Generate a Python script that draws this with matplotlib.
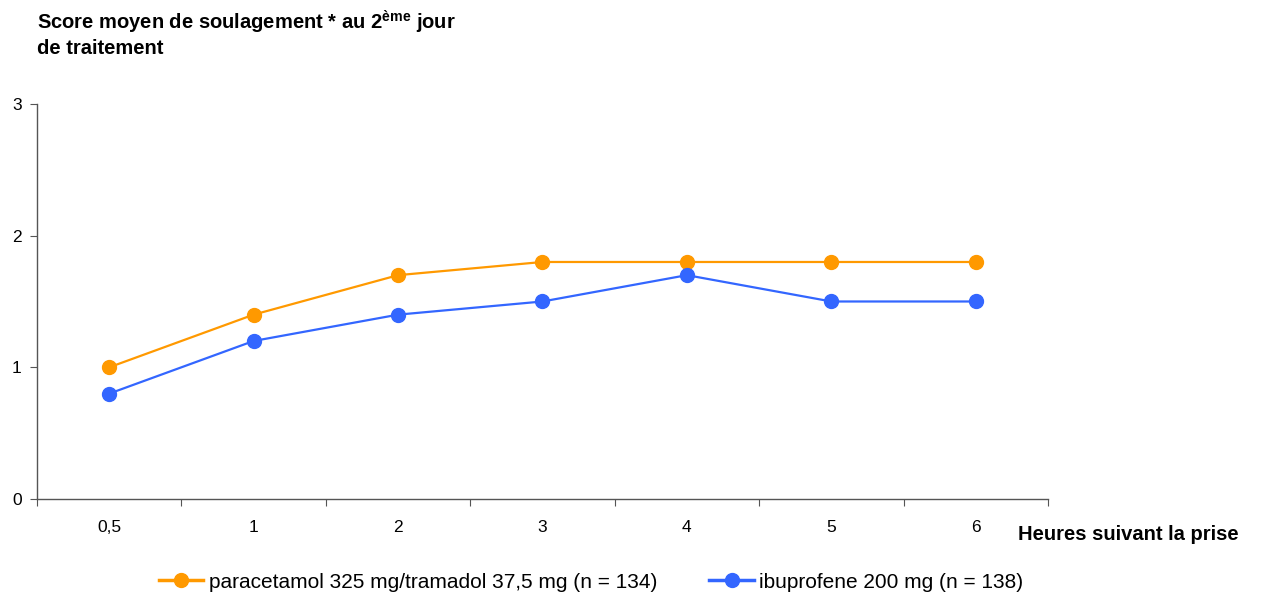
import numpy as np
import matplotlib
matplotlib.use('Agg')
import matplotlib.pyplot as plt

plt.rcParams['font.family'] = ['Liberation Sans', 'DejaVu Sans']
plt.rcParams['mathtext.default'] = 'regular'

# Données
heures = ['0,5', '1', '2', '3', '4', '5', '6']
para_tram = [1.0, 1.4, 1.7, 1.8, 1.8, 1.8, 1.8]
ibuprofene = [0.8, 1.2, 1.4, 1.5, 1.7, 1.5, 1.5]
noms = ['paracetamol 325 mg/tramadol 37,5 mg (n = 134)', 'ibuprofene 200 mg (n = 138)']

fig = plt.figure(figsize=(12.66, 5.97), dpi=100)
ax = fig.add_axes([0.0292, 0.1642, 0.7986, 0.6616])

x = np.arange(len(heures))
l1, = ax.plot(x, para_tram, color='#FF9900', lw=1.6, marker='o', ms=10, label=noms[0])
l2, = ax.plot(x, ibuprofene, color='#3366FF', lw=1.6, marker='o', ms=10, label=noms[1])

ax.set_xlim(-0.5, len(heures) - 0.5)
ax.set_ylim(0, 3)
ax.set_yticks([0, 1, 2, 3])
ax.set_xticks(np.arange(len(heures) + 1) - 0.5)
ax.set_xticklabels([])
ax.set_xticks(x, minor=True)
ax.set_xticklabels(heures, minor=True, fontsize=12.5)
ax.tick_params(axis='x', which='minor', length=0, pad=15)
ax.tick_params(axis='x', which='major', length=5, direction='out', color='#555555')
ax.tick_params(axis='y', length=5, direction='out', labelsize=12.5, color='#555555', pad=6)
for s in ['top', 'right']:
    ax.spines[s].set_visible(False)
for s in ['left', 'bottom']:
    ax.spines[s].set_color('#555555')
    ax.spines[s].set_linewidth(1.0)

fig.text(37 / 1266, 1 - 22 / 597, 'Score moyen de soulagement * au 2$^{ème}$ jour',
         fontsize=14.5, fontweight='bold', va='center', ha='left')
fig.text(37 / 1266, 1 - 48 / 597, 'de traitement',
         fontsize=14.5, fontweight='bold', va='center', ha='left')
fig.text(1018 / 1266, 1 - 535 / 597, 'Heures suivant la prise',
         fontsize=14.5, fontweight='bold', va='center', ha='left')

leg = fig.legend(handles=[l1, l2], loc='center', bbox_to_anchor=(591 / 1266, 1 - 582 / 597),
                 ncol=2, frameon=False, fontsize=15, handlelength=2.15, columnspacing=2.5,
                 handletextpad=0.25)
for h in leg.get_lines():
    h.set_linewidth(2.5)

fig.savefig('out.png', dpi=100)
